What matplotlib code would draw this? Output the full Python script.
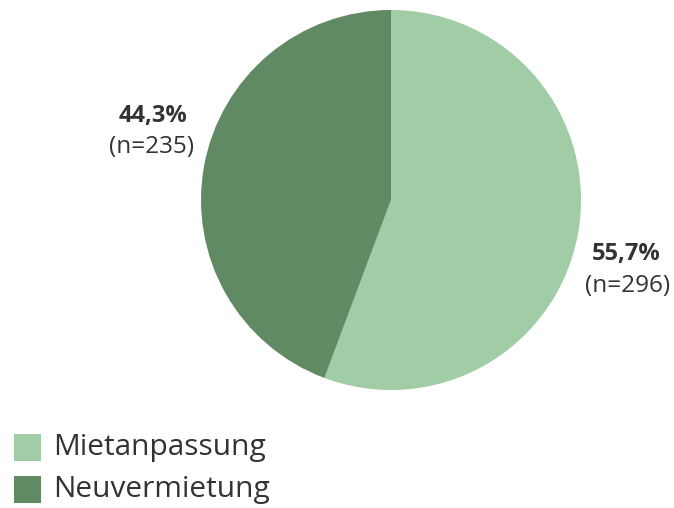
import matplotlib
matplotlib.use("Agg")
import matplotlib.pyplot as plt
from matplotlib.patches import Rectangle

categories = ["Mietanpassung", "Neuvermietung"]
percents = [55.7, 44.3]
counts = [296, 235]
colors = ["#a0cca6", "#5f8a62"]

W, H = 674, 508
fig = plt.figure(figsize=(W / 100, H / 100), dpi=100)
fig.patch.set_facecolor("white")

cx, cy, r = 391, 200, 190
ax = fig.add_axes([(cx - r) / W, 1 - (cy + r) / H, 2 * r / W, 2 * r / H])
ax.pie(percents, colors=colors, startangle=90, counterclock=False, radius=1,
       wedgeprops=dict(linewidth=0))
ax.set_xlim(-1, 1)
ax.set_ylim(-1, 1)
ax.set_aspect("equal")
ax.axis("off")

font = "Open Sans"
txtc = "#333333"

def px(x, y):
    return x / W, 1 - y / H

label_pos = {"Mietanpassung": ((626, 254), (628, 286)),
             "Neuvermietung": ((153, 116), (151, 147))}
for cat, p, n in zip(categories, percents, counts):
    (x1, y1), (x2, y2) = label_pos[cat]
    fig.text(*px(x1, y1), f"{p:.1f}%".replace(".", ","), ha="center", va="center",
             fontsize=17, fontweight="bold", family=font, color=txtc)
    fig.text(*px(x2, y2), f"(n={n})", ha="center", va="center",
             fontsize=17.5, family=font, color=txtc)

# legend
leg_y = [447, 489]
for cat, col, yy in zip(categories, colors, leg_y):
    fig.patches.append(Rectangle(px(14, yy + 13.5), 27 / W, 27 / H,
                                 transform=fig.transFigure, facecolor=col,
                                 edgecolor="none"))
    fig.text(*px(53, yy + 1), cat, ha="left", va="center", fontsize=21.5,
             family=font, color=txtc)

fig.savefig("out.png", dpi=100, facecolor="white")
